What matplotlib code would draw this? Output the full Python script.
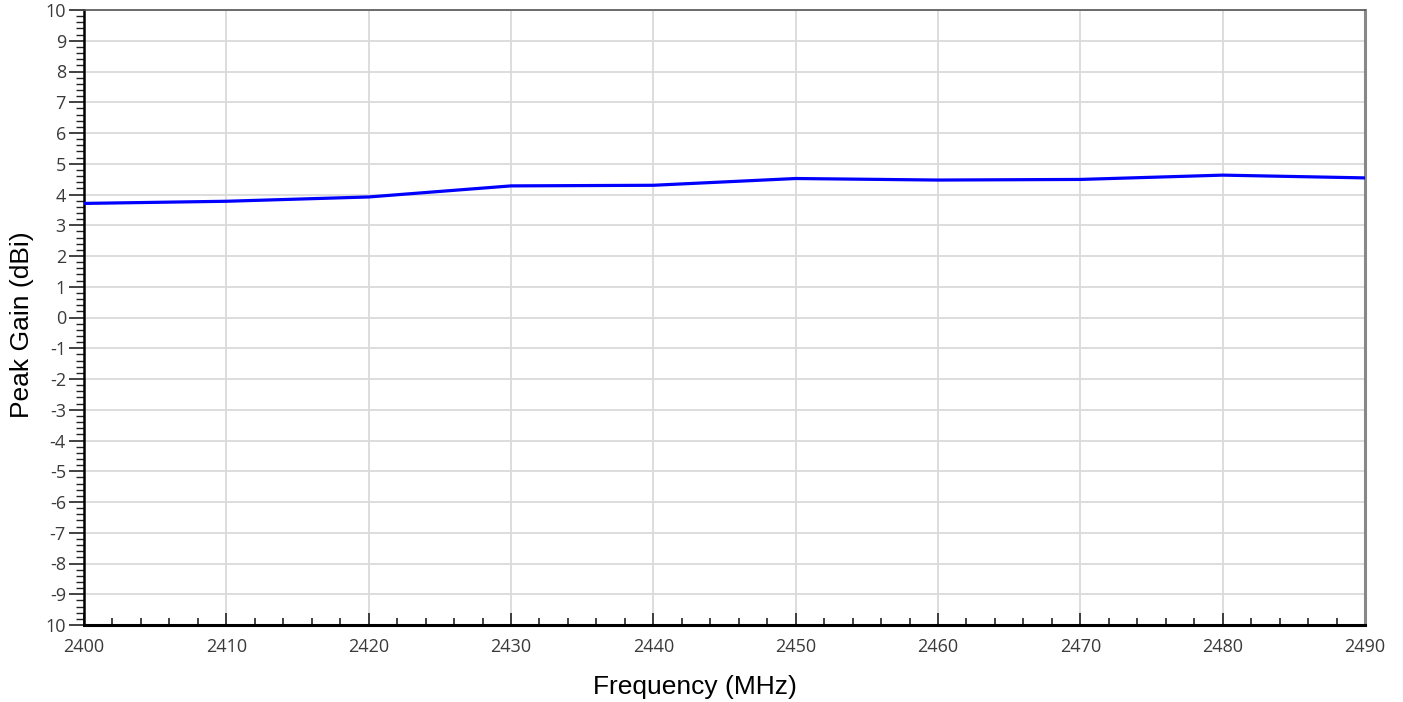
import matplotlib
matplotlib.use("Agg")
import matplotlib.pyplot as plt
from matplotlib.ticker import FixedLocator, FixedFormatter, MultipleLocator

# peak gain
freq_mhz = [2400, 2410, 2420, 2430, 2440, 2450, 2460, 2470, 2480, 2490]
peak_gain = [3.71, 3.78, 3.92, 4.28, 4.30, 4.52, 4.47, 4.49, 4.63, 4.54]

x_ticks = [2400, 2410, 2420, 2430, 2440, 2450, 2460, 2470, 2480, 2490]
y_ticks = list(range(-10, 11))
y_tick_labels = ["10", "-9", "-8", "-7", "-6", "-5", "-4", "-3", "-2", "-1",
                 "0", "1", "2", "3", "4", "5", "6", "7", "8", "9", "10"]

fig = plt.figure(figsize=(14.03, 7.02), dpi=100)
ax = fig.add_axes([84 / 1403, 1 - 625 / 702, (1365 - 84) / 1403, (625 - 10) / 702])

ax.plot(freq_mhz, peak_gain, color='#0000ff', linewidth=2.3, zorder=3)

ax.set_xlim(2400, 2490)
ax.set_ylim(-10, 10)

ax.xaxis.set_major_locator(FixedLocator(x_ticks))
ax.xaxis.set_minor_locator(MultipleLocator(2))
ax.yaxis.set_major_locator(FixedLocator(y_ticks))
ax.yaxis.set_major_formatter(FixedFormatter(y_tick_labels))
ax.yaxis.set_minor_locator(MultipleLocator(0.2))

ax.grid(True, which='major', color='#dadada', linewidth=1.3, zorder=0)
ax.set_axisbelow(True)

tick_font = dict(family='Open Sans', size=13, color='#3a3a3a')
ax.tick_params(axis='x', which='major', direction='in', length=9, width=1.2,
               color='#222222', pad=9)
ax.tick_params(axis='x', which='minor', direction='in', length=5, width=1.2,
               color='#222222')
ax.tick_params(axis='y', which='major', direction='out', length=11, width=1.2,
               color='#222222', pad=2)
ax.tick_params(axis='y', which='minor', direction='out', length=6, width=1.0,
               color='#222222')
for lbl in ax.get_xticklabels() + ax.get_yticklabels():
    lbl.set_fontfamily(tick_font['family'])
    lbl.set_fontsize(tick_font['size'])
    lbl.set_color(tick_font['color'])

ax.spines['bottom'].set_color('black')
ax.spines['bottom'].set_linewidth(2.2)
ax.spines['left'].set_color('black')
ax.spines['left'].set_linewidth(1.8)
ax.spines['top'].set_color('#555555')
ax.spines['top'].set_linewidth(1.2)
ax.spines['right'].set_color('#888888')
ax.spines['right'].set_linewidth(2.2)

ax.set_xlabel("Frequency (MHz)", family='Liberation Sans', fontsize=19, labelpad=14)
ax.set_ylabel("Peak Gain (dBi)", family='Liberation Sans', fontsize=19, labelpad=8)
ax.xaxis.label.set_x(0.477)
ax.yaxis.label.set_y(0.488)

fig.savefig("out.png", dpi=100)
